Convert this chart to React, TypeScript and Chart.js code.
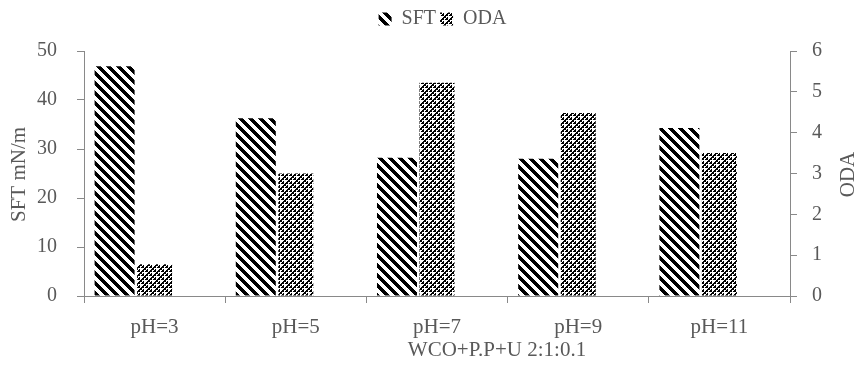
import React, { useEffect, useRef } from 'react';
import { Chart, registerables } from 'chart.js';

Chart.register(...registerables);

const categories = ['pH=3', 'pH=5', 'pH=7', 'pH=9', 'pH=11'];
const sftValues = [46.9, 36.3, 28.2, 28.0, 34.3];
const odaValues = [0.78, 3.0, 5.22, 4.48, 3.5];
const placeholder = [null, null, null, null, null];
const sftMin = 0;
const sftMax = 50;
const sftStep = 10;
const odaMin = 0;
const odaMax = 6;
const odaStep = 1;
const xTitle = 'WCO+P.P+U 2:1:0.1';
const yTitle = 'SFT mN/m';
const y1Title = 'ODA';

const FONT = "'Liberation Serif', 'Times New Roman', serif";
const TEXT = '#595959';
const AXIS = '#898989';

function makeStripes(ctx: CanvasRenderingContext2D) {
  const n = 10;
  const c = document.createElement('canvas');
  c.width = n;
  c.height = n;
  const g = c.getContext('2d') as CanvasRenderingContext2D;
  g.fillStyle = '#ffffff';
  g.fillRect(0, 0, n, n);
  g.fillStyle = '#000000';
  for (let y = 0; y < n; y++) {
    for (let k = 0; k < 5; k++) {
      g.fillRect((y + k) % n, y, 1, 1);
    }
  }
  return ctx.createPattern(c, 'repeat') as CanvasPattern;
}

function makeChecks(ctx: CanvasRenderingContext2D) {
  const n = 8;
  const c = document.createElement('canvas');
  c.width = n;
  c.height = n;
  const g = c.getContext('2d') as CanvasRenderingContext2D;
  g.fillStyle = '#ffffff';
  g.fillRect(0, 0, n, n);
  g.fillStyle = '#000000';
  for (let x = 0; x < n; x++) {
    for (let y = 0; y < n; y++) {
      const cellEven = ((x >> 1) + (y >> 1)) % 2 === 0;
      if (cellEven || (x % 2 === 1 && y % 2 === 1)) g.fillRect(x, y, 1, 1);
    }
  }
  g.fillStyle = '#ffffff';
  g.fillRect(0, 0, 2, 2);
  g.fillRect(4, 4, 2, 2);
  return ctx.createPattern(c, 'repeat') as CanvasPattern;
}

const titlesPlugin = {
  id: 'axisTitles',
  afterDraw(chart: any) {
    const { ctx, chartArea } = chart;
    const midY = (chartArea.top + chartArea.bottom) / 2 + 1;
    ctx.save();
    ctx.fillStyle = TEXT;
    ctx.font = `21px ${FONT}`;
    ctx.textAlign = 'center';
    ctx.textBaseline = 'alphabetic';
    ctx.fillText(xTitle, 497, 356);
    ctx.save();
    ctx.translate(25, midY);
    ctx.rotate(-Math.PI / 2);
    ctx.fillText(yTitle, 0, 0);
    ctx.restore();
    ctx.save();
    ctx.translate(854, midY);
    ctx.rotate(-Math.PI / 2);
    ctx.fillText(y1Title, 0, 0);
    ctx.restore();
    ctx.restore();
  },
};

export default function App() {
  const ref = useRef<HTMLCanvasElement | null>(null);

  useEffect(() => {
    const canvas = ref.current;
    if (!canvas) return;
    const ctx = canvas.getContext('2d') as CanvasRenderingContext2D;
    const stripes = makeStripes(ctx);
    const checks = makeChecks(ctx);

    const tickFont = { family: FONT, size: 20 };

    const chart = new Chart(canvas, {
      type: 'bar',
      data: {
        labels: categories,
        datasets: [
          {
            label: 'SFT',
            data: sftValues,
            yAxisID: 'y',
            backgroundColor: stripes,
            borderWidth: 0,
            barPercentage: 1.0,
            categoryPercentage: 0.85,
          },
          {
            label: 'ODA',
            data: odaValues,
            yAxisID: 'y1',
            backgroundColor: checks,
            borderWidth: 0,
            barPercentage: 0.875,
            categoryPercentage: 0.85,
          },
          {
            label: '',
            data: placeholder,
            yAxisID: 'y',
            backgroundColor: 'rgba(0,0,0,0)',
            borderWidth: 0,
            barPercentage: 1.0,
            categoryPercentage: 0.85,
          },
        ],
      },
      options: {
        responsive: false,
        animation: false,
        devicePixelRatio: 1,
        layout: { padding: { top: 5, left: 24, right: 0, bottom: 0 } },
        plugins: {
          tooltip: { enabled: false },
          title: {
            display: true,
            text: '',
            font: { size: 1, lineHeight: 1 },
            padding: { top: 5, bottom: 6 },
            weight: 500,
          } as any,
          legend: {
            position: 'top',
            labels: {
              boxWidth: 13,
              boxHeight: 13,
              padding: 4,
              color: TEXT,
              font: { family: FONT, size: 20 },
              filter: (item: any) => item.datasetIndex !== 2,
            },
          },
        },
        scales: {
          x: {
            type: 'category',
            offset: true,
            grid: {
              display: true,
              drawOnChartArea: false,
              drawTicks: true,
              tickLength: 7,
              color: AXIS,
              offset: true,
            },
            border: { display: true, color: AXIS, width: 1 },
            ticks: { color: TEXT, font: { family: FONT, size: 21 }, padding: 12, maxRotation: 0 },
            afterFit: (s: any) => {
              s.height = 79;
            },
          },
          y: {
            type: 'linear',
            position: 'left',
            min: sftMin,
            max: sftMax,
            ticks: { stepSize: sftStep, color: TEXT, font: tickFont, padding: 20 },
            grid: { drawOnChartArea: false, tickLength: 7, color: AXIS },
            border: { display: true, color: AXIS, width: 1 },
            afterFit: (s: any) => {
              s.width = 60;
            },
          },
          y1: {
            type: 'linear',
            position: 'right',
            min: odaMin,
            max: odaMax,
            ticks: { stepSize: odaStep, color: TEXT, font: tickFont, padding: 15 },
            grid: { drawOnChartArea: false, tickLength: 7, color: AXIS },
            border: { display: true, color: AXIS, width: 1 },
            afterFit: (s: any) => {
              s.width = 71;
            },
          },
        },
      } as any,
      plugins: [titlesPlugin],
    });

    return () => {
      chart.destroy();
    };
  }, []);

  return (
    <div style={{ position: 'absolute', left: 0, top: 0, width: 861, height: 375, background: '#ffffff' }}>
      <canvas ref={ref} width={861} height={375} style={{ display: 'block' }} />
    </div>
  );
}
